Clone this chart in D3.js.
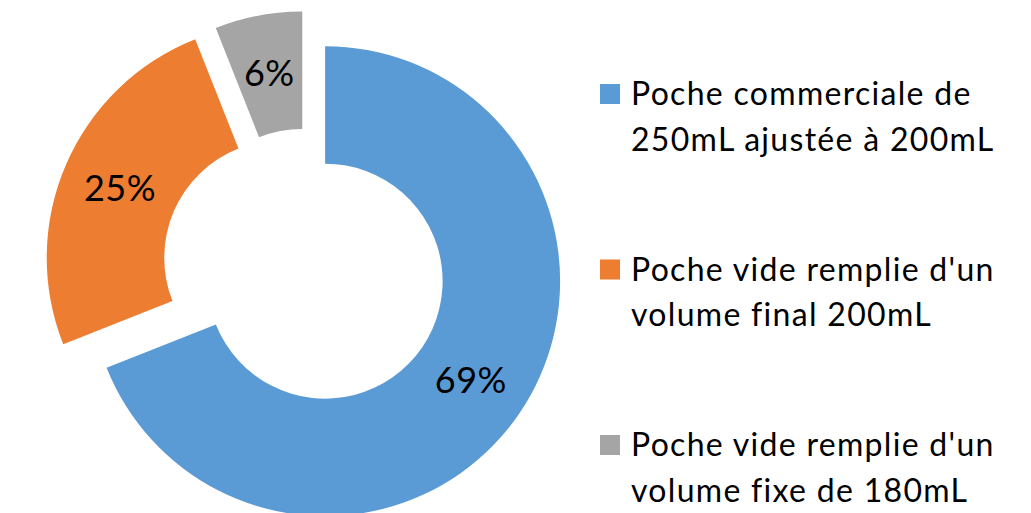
<!DOCTYPE html>
<html><head><meta charset="utf-8">
<script src="https://cdn.jsdelivr.net/npm/d3@7"></script>
<style>body{margin:0;background:#fff;overflow:hidden} text{font-variant-ligatures:none}</style>
</head><body><svg id="c" width="1031" height="513"></svg>
<script>
const categories = ["Poche commerciale de 250mL ajustée à 200mL", "Poche vide remplie d'un volume final 200mL", "Poche vide remplie d'un volume fixe de 180mL"];
const legendLines = [["Poche commerciale de", "250mL ajustée à 200mL"], ["Poche vide remplie d'un", "volume final 200mL"], ["Poche vide remplie d'un", "volume fixe de 180mL"]];
const values = [69, 25, 6];
const valueLabels = ["69%", "25%", "6%"];
const colors = ["#5B9BD5", "#ED7D31", "#A5A5A5"];
const explode = [22.5, 27, 22.5];

const FONT = "Lato, 'Open Sans', sans-serif";
const svg = d3.select("#c");
const cx = 306.5, cy = 268.5, R = 235, r = 117.5;

const pie = d3.pie().sort(null).value(d => d);
const arcs = pie(values);
const arc = d3.arc().innerRadius(r).outerRadius(R);

const g = svg.append("g").attr("transform", `translate(${cx},${cy})`);
const slices = g.selectAll("g.slice").data(arcs).join("g")
  .attr("class", "slice")
  .attr("transform", (d, i) => {
    const m = (d.startAngle + d.endAngle) / 2;
    return `translate(${Math.sin(m) * explode[i]},${-Math.cos(m) * explode[i]})`;
  });
slices.append("path").attr("d", arc).attr("fill", (d, i) => colors[i]);
slices.append("text")
  .attr("transform", d => `translate(${arc.centroid(d)})`)
  .attr("text-anchor", "middle").attr("dy", "0.36em")
  .attr("font-family", FONT).attr("font-size", 36).attr("letter-spacing", 0.5).attr("fill", "#000")
  .text((d, i) => valueLabels[i]);

// legend
const ly = d3.scalePoint().domain(categories).range([84, 435]);
const leg = svg.append("g").selectAll("g").data(categories).join("g")
  .attr("transform", d => `translate(600,${ly(d)})`);
leg.append("rect").attr("width", 20).attr("height", 20).attr("fill", (d, i) => colors[i]);
leg.append("text").attr("font-family", FONT).attr("font-size", 32).attr("letter-spacing", 1.3).attr("fill", "#000")
  .selectAll("tspan").data((d, i) => legendLines[i]).join("tspan")
  .attr("x", 31).attr("y", (d, j) => 21 + j * 45.7).text(d => d);
</script></body></html>
